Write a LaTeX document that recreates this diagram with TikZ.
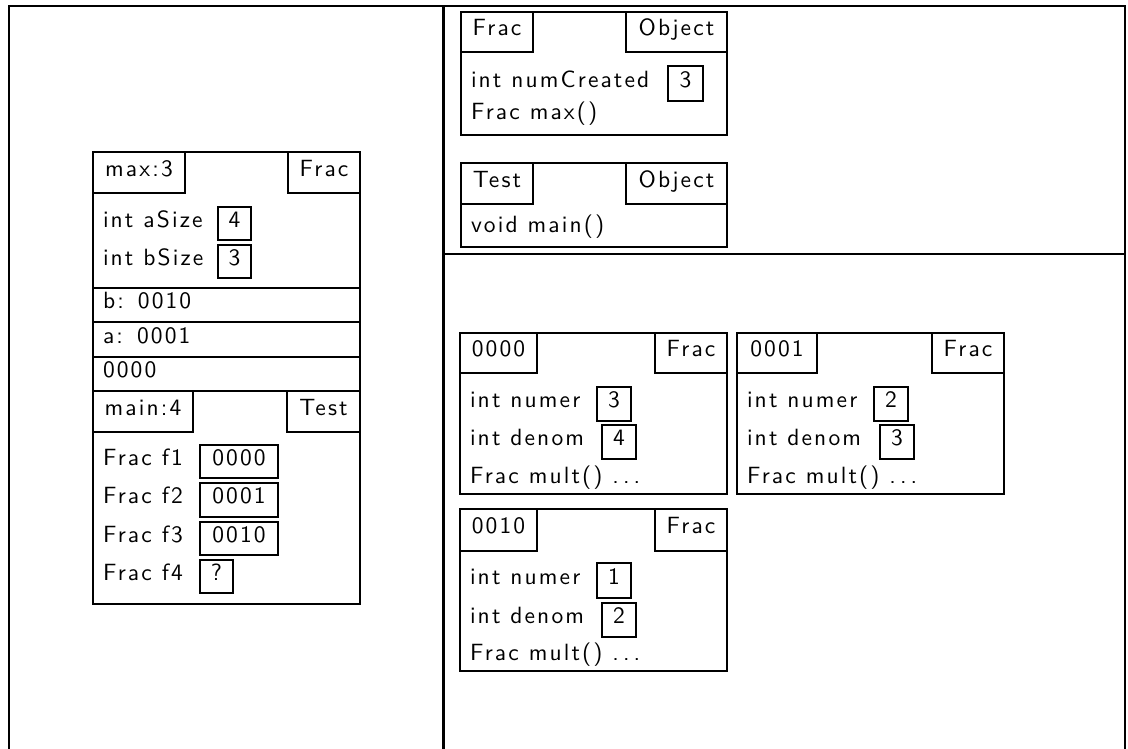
\documentclass[tikz,border=0pt]{standalone}
\usepackage{fontspec}
\newfontfamily\lsans{lmsans10-regular}[Extension=.otf, LetterSpace=9]
\newcommand{\dotsx}{.\kern4pt.\kern4pt.}
\begin{document}
\begin{tikzpicture}[x=1pt,y=-1pt,
  every node/.style={font=\lsans\fontsize{23.5}{28}\selectfont, text height=0.9em, text depth=0.15em, outer sep=0pt},
  outerline/.style={line width=2.2pt},
  divider/.style={line width=3pt},
  frame/.style={line width=1.6pt},
  lbl/.style={draw, line width=2.4pt, anchor=north west, inner sep=0pt},
  val/.style={draw, line width=2pt, anchor=north west, inner sep=0pt},
  txt/.style={anchor=west, inner sep=0pt}]
\useasboundingbox (0,0) rectangle (1128,749);
% outer frame and dividers
\draw[outerline] (9,749) -- (9,6) -- (1125,6) -- (1125,749);
\draw[divider] (443,6) -- (443,749);
\draw[outerline] (443,254) -- (1125,254);
% ---- left stack ----
\draw[frame] (93,152) rectangle (360,288);
\node[lbl, minimum width=92pt, minimum height=41pt] (maxlbl) at (93,152) {max:3};
\node[lbl, minimum width=72pt, minimum height=41pt] (maxcls) at (288,152) {Frac};
\node[txt] (asz) at (103,223.5) {int aSize};
\node[val, minimum width=33pt, minimum height=33pt] (aszv) at (218,207) {4};
\node[txt] (bsz) at (103,261.5) {int bSize};
\node[val, minimum width=33pt, minimum height=33pt] (bszv) at (218,245) {3};
\draw[frame] (93,288) rectangle (360,322);
\node[txt] (brow) at (103,305) {b:\hspace{0.6em}0010};
\draw[frame] (93,322) rectangle (360,357);
\node[txt] (arow) at (103,339.5) {a:\hspace{0.6em}0001};
\draw[frame] (93,357) rectangle (360,391);
\node[txt] (zrow) at (103,374) {0000};
\draw[frame] (93,391) rectangle (360,604);
\node[lbl, minimum width=100pt, minimum height=41pt] (mainlbl) at (93,391) {main:4};
\node[lbl, minimum width=73pt, minimum height=41pt] (maincls) at (287,391) {Test};
\node[txt] (f1) at (103,461.5) {Frac f1};
\node[val, minimum width=78pt, minimum height=33pt] (f1v) at (200,445) {0000};
\node[txt] (f2) at (103,500) {Frac f2};
\node[val, minimum width=78pt, minimum height=34pt] (f2v) at (200,483) {0001};
\node[txt] (f3) at (103,538.5) {Frac f3};
\node[val, minimum width=78pt, minimum height=33pt] (f3v) at (200,522) {0010};
\node[txt] (f4) at (103,576.5) {Frac f4};
\node[val, minimum width=33pt, minimum height=33pt] (f4v) at (200,560) {?};
% ---- classes ----
\draw[frame] (461,12) rectangle (727,135);
\node[lbl, minimum width=72pt, minimum height=40pt] (fraclbl) at (461,12) {Frac};
\node[lbl, minimum width=101pt, minimum height=40pt] (fracsup) at (626,12) {Object};
\node[txt] (numc) at (471,83.5) {int numCreated};
\node[val, minimum width=35pt, minimum height=35pt] (numcv) at (668,66) {3};
\node[txt] (fmax) at (471,116) {Frac max()};
\draw[frame] (461,163) rectangle (727,247);
\node[lbl, minimum width=72pt, minimum height=41pt] (testlbl) at (461,163) {Test};
\node[lbl, minimum width=101pt, minimum height=41pt] (testsup) at (626,163) {Object};
\node[txt] (vmain) at (471,228.5) {void main()};
% ---- objects ----
\draw[frame] (460,333) rectangle (727,494);
\node[lbl, minimum width=77pt, minimum height=40pt] (oalbl) at (460,333) {0000};
\node[lbl, minimum width=72pt, minimum height=40pt] (oacls) at (655,333) {Frac};
\node[txt] (oan) at (470,404) {int numer};
\node[val, minimum width=34pt, minimum height=34pt] (oanv) at (597,387) {3};
\node[txt] (oad) at (470,442) {int denom};
\node[val, minimum width=34pt, minimum height=34pt] (oadv) at (602,425) {4};
\node[txt] (oam) at (470,479.5) {Frac mult() \dotsx};
\draw[frame] (737,333) rectangle (1004,494);
\node[lbl, minimum width=80pt, minimum height=40pt] (oblbl) at (737,333) {0001};
\node[lbl, minimum width=72pt, minimum height=40pt] (obcls) at (932,333) {Frac};
\node[txt] (obn) at (747,404) {int numer};
\node[val, minimum width=34pt, minimum height=34pt] (obnv) at (874,387) {2};
\node[txt] (obd) at (747,442) {int denom};
\node[val, minimum width=34pt, minimum height=34pt] (obdv) at (880,425) {3};
\node[txt] (obm) at (747,479.5) {Frac mult() \dotsx};
\draw[frame] (460,509) rectangle (727,671);
\node[lbl, minimum width=77pt, minimum height=42pt] (oclbl) at (460,509) {0010};
\node[lbl, minimum width=72pt, minimum height=42pt] (occls) at (655,509) {Frac};
\node[txt] (ocn) at (470,580.5) {int numer};
\node[val, minimum width=34pt, minimum height=35pt] (ocnv) at (597,563) {1};
\node[txt] (ocd) at (470,620) {int denom};
\node[val, minimum width=34pt, minimum height=34pt] (ocdv) at (602,603) {2};
\node[txt] (ocm) at (470,656.5) {Frac mult() \dotsx};
\end{tikzpicture}
\end{document}
